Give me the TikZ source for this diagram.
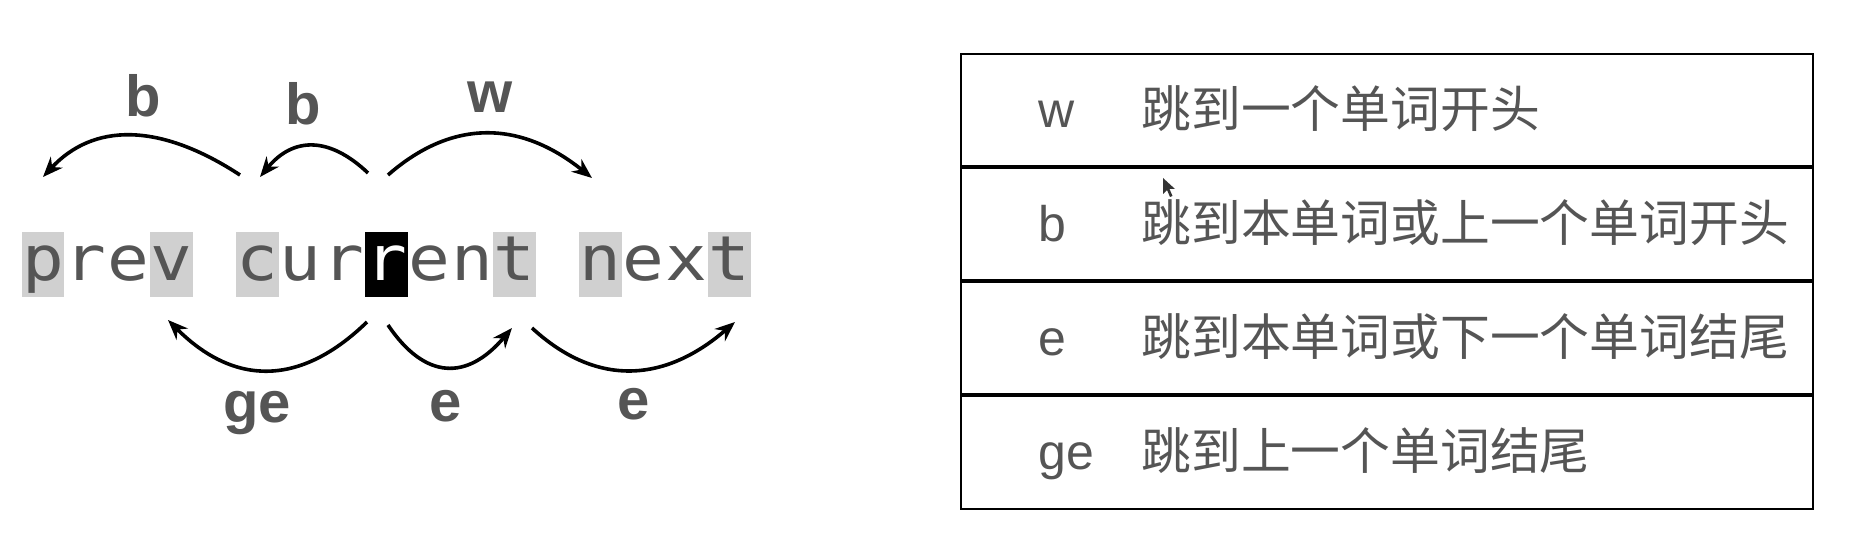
\documentclass[tikz,border=0pt]{standalone}
\usepackage{fontspec}
\usetikzlibrary{arrows.meta}
\newfontfamily\monofont{DejaVu Sans Mono}
\newfontfamily\lsans{Liberation Sans}
\newfontfamily\cjkfont{Noto Sans CJK SC}
\definecolor{txt}{HTML}{555555}
\definecolor{hl}{HTML}{D0D0D0}
\tikzset{
 ch/.style={anchor=base, inner sep=0pt, font=\monofont\fontsize{31pt}{36pt}\selectfont},
 lbl/.style={anchor=base, inner sep=0pt, font=\lsans\bfseries\fontsize{29pt}{34pt}\selectfont, text=txt},
 jump/.style={line width=1.8pt, black, -{Stealth[length=10pt,width=8pt]}},
 keytxt/.style={anchor=base west, inner sep=0pt, font=\lsans\fontsize{25pt}{30pt}\selectfont, text=txt},
 desc/.style={anchor=base west, inner sep=0pt, font=\cjkfont\fontsize{24.9pt}{30pt}\selectfont, text=txt},
 frameline/.style={line width=1.3pt, black},
 sepline/.style={line width=1.9pt, black},
}
\begin{document}
\begin{tikzpicture}[x=0.5pt,y=-0.5pt]
\useasboundingbox[fill=white] (0,0) rectangle (1849,549);
% --- character cells ---
\foreach \i in {0,3,5,11,13,16}
  \fill[hl] ({21.5+42.9*\i},232) rectangle ({21.5+42.9*(\i+1)},297);
\fill[black] ({21.5+42.9*8},232) rectangle ({21.5+42.9*9},297);
\foreach \i/\c/\col in {0/p/txt,1/r/txt,2/e/txt,3/v/txt,5/c/txt,6/u/txt,7/r/txt,8/r/white,9/e/txt,10/n/txt,11/t/txt,13/n/txt,14/e/txt,15/x/txt,16/t/txt}
  \node[ch, text=\col] (ch\i) at ({42.95+42.9*\i},281) {\scalebox{1.12}[1]{\c}};
% --- arrow end points ---
\coordinate (b1s) at (240,175); \coordinate (b1e) at (43,177);
\coordinate (b2s) at (368,173); \coordinate (b2e) at (260,177);
\coordinate (ws) at (388,175);  \coordinate (we) at (592,178);
\coordinate (ges) at (367,322); \coordinate (gee) at (168,320);
\coordinate (e1s) at (388,325); \coordinate (e1e) at (512,328);
\coordinate (e2s) at (532,328); \coordinate (e2e) at (735,322);
% --- arrows ---
\draw[jump] (b1s) .. controls (159,122) and (93,123) .. (b1e);
\draw[jump] (b2s) .. controls (329,136) and (293,137) .. (b2e);
\draw[jump] (ws) .. controls (452,119) and (520,120) .. (we);
\draw[jump] (ges) .. controls (300,387) and (234,386) .. (gee);
\draw[jump] (e1s) .. controls (425,380) and (467,381) .. (e1e);
\draw[jump] (e2s) .. controls (595,386) and (663,384) .. (e2e);
% --- arrow labels ---
\node[lbl] (lb1) at (143,117) {b};
\node[lbl] (lb2) at (303,125) {b};
\node[lbl] (lw) at (490,113) {w};
\node[lbl] (lge) at (257,423) {ge};
\node[lbl] (le1) at (446,422) {e};
\node[lbl] (le2) at (634,420) {e};
% --- table ---
\draw[frameline] (961,54) rectangle (1813,509);
\draw[sepline] (961,167) -- (1813,167);
\draw[sepline] (961,281) -- (1813,281);
\draw[sepline] (961,395) -- (1813,395);
\node[keytxt] (k1) at (1038,128) {w};
\node[desc] (d1) at (1141,128) {跳到一个单词开头};
\node[keytxt] (k2) at (1038,241.5) {b};
\node[desc] (d2) at (1141,241.5) {跳到本单词或上一个单词开头};
\node[keytxt] (k3) at (1038,355.5) {e};
\node[desc] (d3) at (1141,355.5) {跳到本单词或下一个单词结尾};
\node[keytxt] (k4) at (1038,469.5) {ge};
\node[desc] (d4) at (1141,469.5) {跳到上一个单词结尾};
% --- mouse pointer ---
\fill[black!80] (1163,178) -- (1163,194) -- (1167,190) -- (1170,197) -- (1172.5,196) -- (1169.5,189) -- (1175,189) -- cycle;
\end{tikzpicture}
\end{document}
